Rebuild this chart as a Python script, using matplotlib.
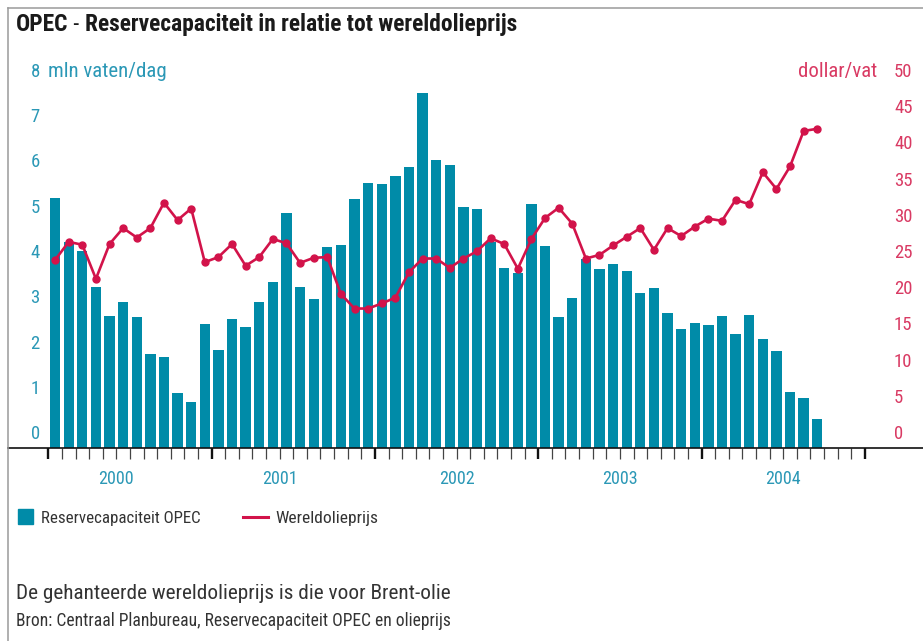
import numpy as np
import matplotlib.pyplot as plt
import matplotlib.transforms as mtransforms
from matplotlib import font_manager as fm
from matplotlib.lines import Line2D
from matplotlib.patches import Rectangle

# smalle letter kiezen als die er is
fonts = {(f.name, f.stretch) for f in fm.fontManager.ttflist}
if any(n == 'Liberation Sans Narrow' for n, s in fonts):
    fam, stretch = 'Liberation Sans Narrow', 'normal'
elif any(n == 'Roboto Condensed' for n, s in fonts):
    fam, stretch = 'Roboto Condensed', 'normal'
elif ('DejaVu Sans', 'condensed') in fonts or ('DejaVu Sans', 587) in fonts:
    fam, stretch = 'DejaVu Sans', 'condensed'
else:
    fam, stretch = 'Roboto', 'normal'
plt.rcParams['font.family'] = [fam, 'DejaVu Sans']
plt.rcParams['font.stretch'] = stretch

# maandcijfers jan 2000 - sep 2004
capaciteit = [5.52, 4.53, 4.34, 3.54, 2.91, 3.22, 2.89, 2.07, 2.00, 1.20, 1.00, 2.74,
              2.16, 2.84, 2.67, 3.22, 3.66, 5.19, 3.54, 3.28, 4.44, 4.47, 5.49, 5.84,
              5.82, 6.00, 6.20, 7.83, 6.34, 6.23, 5.32, 5.28, 4.53, 3.97, 3.86, 5.37,
              4.46, 2.88, 3.31, 4.16, 3.95, 4.06, 3.91, 3.41, 3.52, 2.97, 2.63, 2.75,
              2.71, 2.91, 2.52, 2.94, 2.39, 2.14, 1.24, 1.09, 0.63]  # mln vaten/dag
olieprijs = [25.9, 28.4, 28.0, 23.3, 28.1, 30.3, 29.0, 30.3, 33.8, 31.4, 33.0, 25.6,
             26.3, 28.1, 25.1, 26.3, 28.8, 28.2, 25.5, 26.2, 26.3, 21.2, 19.2, 19.2,
             19.9, 20.7, 24.2, 26.1, 26.1, 24.8, 26.1, 27.1, 28.9, 28.1, 24.7, 28.8,
             31.7, 33.1, 30.9, 26.1, 26.6, 27.9, 29.1, 30.3, 27.3, 30.3, 29.2, 30.5,
             31.6, 31.3, 34.2, 33.6, 38.0, 35.7, 38.8, 43.7, 44.0]  # dollar/vat
jaren = ['2000', '2001', '2002', '2003', '2004']
jaar_pos = [5, 17, 30, 42, 54]
links_ticks = list(range(0, 9))
rechts_ticks = list(range(0, 55, 5))

TEAL = '#008ba8'
TEAL_TXT = '#2b98b6'
ROOD = '#d2134a'
ROOD_TXT = '#d93a63'

W, H = 923, 641
fig = plt.figure(figsize=(W / 100, H / 100), dpi=100)
r = fig.canvas.get_renderer()

def fx(px):
    return px / W

def fy(py):
    return 1 - py / H

def fit(t, breedte):
    # lettergrootte aanpassen zodat de tekst even breed wordt als in het origineel
    w = t.get_window_extent(r).width
    t.set_fontsize(t.get_fontsize() * breedte / w)
    return t

ax = fig.add_axes([fx(8), fy(447.7), fx(915), 362.4 / H])
ax.set_xlim(-2.96, 64.27)
ax.set_ylim(0, 8)
x = np.arange(len(capaciteit)) + 0.5
ax.bar(x, capaciteit, width=0.76, color=TEAL, zorder=2)

ax2 = ax.twinx()
ax2.set_ylim(0, 50)
ax2.plot(x, olieprijs, color=ROOD, lw=1.9, marker='o', ms=5, zorder=3)

for a in (ax, ax2):
    for s in a.spines.values():
        s.set_visible(False)
    a.set_yticks([])
ax.spines['bottom'].set_visible(True)
ax.spines['bottom'].set_linewidth(1.2)
ax.spines['bottom'].set_color('#111111')

ax.set_xticks(range(0, 61, 12))
ax.set_xticks([m for m in range(61) if m % 12], minor=True)
ax.tick_params(axis='x', which='major', length=8, width=1.7, color='#111111', labelbottom=False)
ax.tick_params(axis='x', which='minor', length=8, width=0.9, color='#444444')

off = mtransforms.ScaledTranslation(0, 8.5 / 100, fig.dpi_scale_trans)
for v in links_ticks:
    ax.text((30.5 - 8) / 915, v, str(v), transform=ax.get_yaxis_transform() + off,
            ha='left', va='baseline', color=TEAL_TXT, fontsize=13.5)
for v in rechts_ticks:
    ax2.text((894 - 8) / 915, v, str(v), transform=ax2.get_yaxis_transform() + off,
             ha='left', va='baseline', color=ROOD_TXT, fontsize=13.5)
t = ax.text((48 - 8) / 915, 8, 'mln vaten/dag', transform=ax.get_yaxis_transform() + off,
            ha='left', va='baseline', color=TEAL_TXT, fontsize=13.5)
fit(t, 119)
t = ax2.text((877 - 8) / 915, 50, 'dollar/vat', transform=ax2.get_yaxis_transform() + off,
             ha='right', va='baseline', color=ROOD_TXT, fontsize=13.5)
fit(t, 79)

for pos, jaar in zip(jaar_pos, jaren):
    ax.text(pos, (447.7 - 484.3) / 362.4, jaar, transform=ax.get_xaxis_transform(),
            ha='center', va='baseline', color=TEAL_TXT, fontsize=13)

# kader
fig.add_artist(Line2D([fx(8), fx(8)], [0, fy(7.5)], transform=fig.transFigure, color='#9a9a9a', lw=1.1))
fig.add_artist(Line2D([fx(8), 1], [fy(7.5), fy(7.5)], transform=fig.transFigure, color='#9a9a9a', lw=1.1))

# titel
titel = [('OPEC', 'bold'), (' - ', 'normal'), ('Reservecapaciteit in relatie tot wereldolieprijs', 'bold')]
delen = [fig.text(0, fy(30.7), s, fontsize=14.7, fontweight=wt, color='#1a1a1a', va='baseline')
         for s, wt in titel]
totaal = sum(d.get_window_extent(r).width for d in delen)
xpos = 16
for d in delen:
    d.set_fontsize(d.get_fontsize() * 501 / totaal)
    d.set_x(fx(xpos))
    xpos += d.get_window_extent(r).width

# legenda
fig.add_artist(Rectangle((fx(18.3), fy(524)), 15 / W, 15 / H, transform=fig.transFigure, color=TEAL))
fit(fig.text(fx(41), fy(523.3), 'Reservecapaciteit OPEC', fontsize=12.7, color='#333333', va='baseline'), 160)
fig.add_artist(Line2D([fx(242.7), fx(267.7)], [fy(516.7), fy(516.7)], transform=fig.transFigure, color=ROOD, lw=2.2))
fit(fig.text(fx(275), fy(523.3), 'Wereldolieprijs', fontsize=12.7, color='#333333', va='baseline'), 103)

fit(fig.text(fx(16), fy(599), 'De gehanteerde wereldolieprijs is die voor Brent-olie', fontsize=13.5,
             color='#333333', va='baseline'), 436)
fit(fig.text(fx(16), fy(626), 'Bron: Centraal Planbureau, Reservecapaciteit OPEC en olieprijs', fontsize=11.5,
             color='#333333', va='baseline'), 434)

fig.savefig('out.png', dpi=100)
